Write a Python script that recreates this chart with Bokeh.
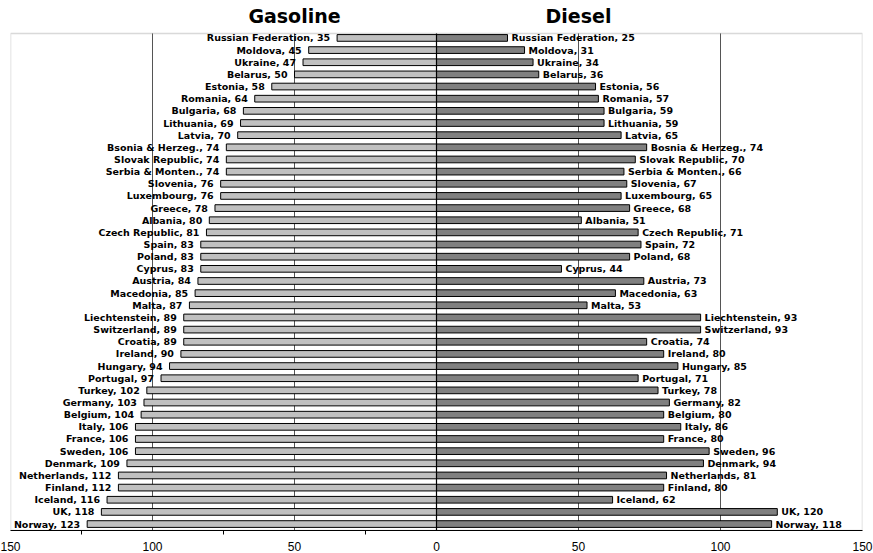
from bokeh.plotting import figure
from bokeh.models import (ColumnDataSource, Range1d, FixedTicker, BoxAnnotation)
from bokeh.core.properties import value
from bokeh.embed import file_html
from bokeh.resources import INLINE

gas_names = ["Russian Federation", "Moldova", "Ukraine", "Belarus", "Estonia", "Romania",
             "Bulgaria", "Lithuania", "Latvia", "Bsonia & Herzeg.", "Slovak Republic",
             "Serbia & Monten.", "Slovenia", "Luxembourg", "Greece", "Albania",
             "Czech Republic", "Spain", "Poland", "Cyprus", "Austria", "Macedonia", "Malta",
             "Liechtenstein", "Switzerland", "Croatia", "Ireland", "Hungary", "Portugal",
             "Turkey", "Germany", "Belgium", "Italy", "France", "Sweden", "Denmark",
             "Netherlands", "Finland", "Iceland", "UK", "Norway"]
diesel_names = ["Russian Federation", "Moldova", "Ukraine", "Belarus", "Estonia", "Romania",
                "Bulgaria", "Lithuania", "Latvia", "Bosnia & Herzeg.", "Slovak Republic",
                "Serbia & Monten.", "Slovenia", "Luxembourg", "Greece", "Albania",
                "Czech Republic", "Spain", "Poland", "Cyprus", "Austria", "Macedonia", "Malta",
                "Liechtenstein", "Switzerland", "Croatia", "Ireland", "Hungary", "Portugal",
                "Turkey", "Germany", "Belgium", "Italy", "France", "Sweden", "Denmark",
                "Netherlands", "Finland", "Iceland", "UK", "Norway"]
gasoline = [35, 45, 47, 50, 58, 64, 68, 69, 70, 74, 74, 74, 76, 76, 78, 80, 81, 83, 83, 83,
            84, 85, 87, 89, 89, 89, 90, 94, 97, 102, 103, 104, 106, 106, 106, 109, 112, 112,
            116, 118, 123]
diesel = [25, 31, 34, 36, 56, 57, 59, 59, 65, 74, 70, 66, 67, 65, 68, 51, 71, 72, 68, 44,
          73, 63, 53, 93, 93, 74, 80, 85, 71, 78, 82, 80, 86, 80, 96, 94, 81, 80, 62, 120, 118]
tick_values = [-150, -100, -50, 0, 50, 100, 150]
tick_labels = ["150", "100", "50", "0", "50", "100", "150"]
minor_tick_values = [-125, -75, -25]
grid_values = [-100, -50, 50, 100]
titles = ["Gasoline", "Diesel"]
title_x = [-50, 50]

n = len(gas_names)
ypos = [-i for i in range(n)]
W, H = 873, 553
BL, BR, BB = 10, 11, 22
TITLE_H = 33                       # px reserved above the bar area for the titles
bar_area_h = H - TITLE_H - BB
y_bot = -(n - 1) - 0.53
y_top = 0.37
px_per_unit = bar_area_h / (y_top - y_bot)
y_max = y_top + TITLE_H / px_per_unit

gas_src = ColumnDataSource(dict(
    y=ypos, right=[-v for v in gasoline],
    lab=[f"{c}, {v}" for c, v in zip(gas_names, gasoline)]))
dsl_src = ColumnDataSource(dict(
    y=ypos, right=diesel,
    lab=[f"{c}, {v}" for c, v in zip(diesel_names, diesel)]))
grid_src = ColumnDataSource(dict(x=grid_values, y0=[y_bot] * len(grid_values),
                                 y1=[y_top] * len(grid_values)))
title_src = ColumnDataSource(dict(x=title_x, y=[y_top] * len(titles), t=titles))

p = figure(width=W, height=H, output_backend="svg", toolbar_location=None,
           x_range=Range1d(-150, 150), y_range=Range1d(y_bot, y_max),
           min_border_left=BL, min_border_right=BR, min_border_top=0, min_border_bottom=BB)
p.background_fill_color = "white"
p.border_fill_color = "white"
p.outline_line_color = None

p.yaxis.visible = False
p.grid.visible = False

ax = p.xaxis[0]
ax.ticker = FixedTicker(ticks=tick_values, minor_ticks=minor_tick_values)
ax.major_label_overrides = {t: l for t, l in zip(tick_values, tick_labels)}
ax.major_label_text_font = "Liberation Sans"
ax.major_label_text_font_size = "12px"
ax.major_label_text_color = "black"
ax.major_label_standoff = 7
ax.axis_line_color = "black"
ax.major_tick_out = 0
ax.major_tick_in = 0
ax.minor_tick_out = 4
ax.minor_tick_in = 0
ax.minor_tick_line_color = "black"

# plot-area frame (gray) below the title band
p.add_layout(BoxAnnotation(left=-150, right=150, bottom=y_bot, top=y_top,
                           fill_alpha=0, line_color="#808080", line_width=1.5,
                           level="underlay"))

# vertical gridlines
p.segment(x0="x", x1="x", y0="y0", y1="y1", source=grid_src,
          line_color="#555555", line_width=1)

bh = 0.55
p.hbar(y="y", left=0, right="right", height=bh, source=gas_src,
       fill_color="#C0C0C0", line_color="black", line_width=1)
p.hbar(y="y", left=0, right="right", height=bh, source=dsl_src,
       fill_color="#808080", line_color="black", line_width=1)

# zero line
p.segment(x0=[0], x1=[0], y0=[y_bot], y1=[y_top], line_color="black", line_width=1.2)

p.text(x="right", y="y", text="lab", source=gas_src, text_align="right",
       text_baseline="middle", x_offset=-7, text_font=value("DejaVu Sans"),
       text_font_style="bold", text_font_size="9.5px", text_color="black")
p.text(x="right", y="y", text="lab", source=dsl_src, text_align="left",
       text_baseline="middle", x_offset=4, text_font=value("DejaVu Sans"),
       text_font_style="bold", text_font_size="9.5px", text_color="black")

p.text(x="x", y="y", text="t", source=title_src, text_align="center",
       text_baseline="alphabetic", y_offset=-17, text_font=value("DejaVu Sans"),
       text_font_style="bold", text_font_size="19px", text_color="black")

open("out.html", "w").write(file_html(p, INLINE))
